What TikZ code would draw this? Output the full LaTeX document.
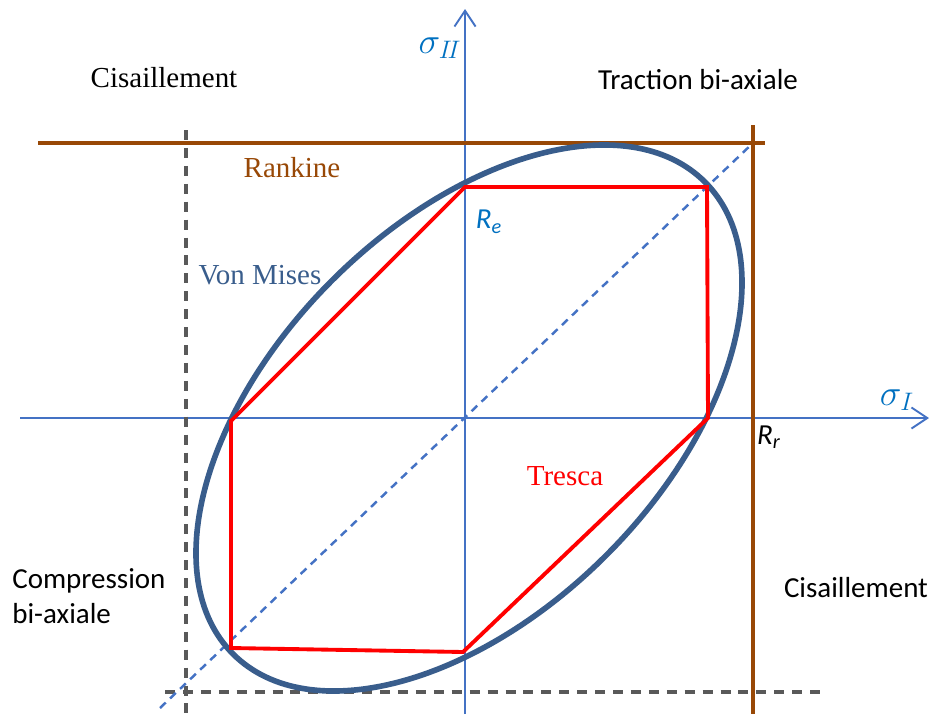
\documentclass[tikz,border=0pt]{standalone}
\usepackage{fontspec}
\setmainfont{Liberation Serif}
\newfontfamily\calibri{Carlito}
\usetikzlibrary{arrows.meta}
\definecolor{axisblue}{RGB}{68,114,196}
\definecolor{vmblue}{RGB}{57,93,140}
\definecolor{rkbrown}{RGB}{152,72,6}
\definecolor{dgray}{RGB}{89,89,89}
\definecolor{lblblue}{RGB}{0,112,192}
\tikzset{
  axisline/.style={draw=axisblue,line width=1.1pt,-{Straight Barb[length=9pt,width=12pt,line width=1.1pt]}},
  diagline/.style={draw=axisblue,line width=1.4pt,dash pattern=on 4.5pt off 3.4pt},
  limline/.style={draw=dgray,line width=1.9pt,dash pattern=on 5.7pt off 4.5pt},
  rkline/.style={draw=rkbrown,line width=2.2pt},
  vmline/.style={draw=vmblue,line width=3.2pt},
  trline/.style={draw=red,line width=2.2pt,line join=miter},
  serlbl/.style={font=\fontsize{16.5}{20}\selectfont,inner sep=0pt},
  sanslbl/.style={font=\calibri\fontsize{16.5}{20}\selectfont,inner sep=0pt},
}
\begin{document}
\begin{tikzpicture}[x=0.02cm,y=-0.02cm]
\useasboundingbox (0,0) rectangle (930,714);
% axes
\coordinate (xa0) at (20,418);
\coordinate (xa1) at (929,418);
\coordinate (ya0) at (465,714);
\coordinate (ya1) at (465,9);
\draw[axisline] (xa0) -- (xa1);
\draw[axisline] (ya0) -- (ya1);
% dashed limits
\coordinate (gv0) at (186,130);
\coordinate (gv1) at (186,714);
\coordinate (gh0) at (165,692);
\coordinate (gh1) at (820,692);
\draw[limline] (gv0) -- (gv1);
\draw[limline] (gh0) -- (gh1);
% diagonal
\coordinate (d0) at (160,708);
\coordinate (d1) at (753,143);
\draw[diagline] (d0) -- (d1);
% Rankine
\coordinate (rh0) at (38,143);
\coordinate (rh1) at (765,143);
\coordinate (rv0) at (753,125);
\coordinate (rv1) at (753,714);
\draw[rkline] (rh0) -- (rh1);
\draw[rkline] (rv0) -- (rv1);
% Von Mises
\coordinate (c) at (469,418);
\draw[vmline] (c) ellipse [x radius=333.7, y radius=194.1, rotate=45];
% Tresca
\coordinate (t1) at (465,187);
\coordinate (t2) at (707,187);
\coordinate (t3) at (708,418);
\coordinate (t4) at (463,652);
\coordinate (t5) at (231,648);
\coordinate (t6) at (231,421);
\draw[trline] (t1) -- (t2) -- (t3) -- (t4) -- (t5) -- (t6) -- cycle;
% labels
\node[serlbl] (lcis1) at (164,78) {Cisaillement};
\node[sanslbl] (ltrac) at (698,80) {Traction bi-axiale};
\node[serlbl,text=rkbrown] (lrank) at (292,168) {Rankine};
\node[serlbl,text=vmblue] (lvm) at (260,275) {Von Mises};
\node[serlbl,text=red] (ltr) at (565,476) {Tresca};
\node[sanslbl,align=left,anchor=north west] (lcomp) at (12,568) {Compression\\bi-axiale};
\node[sanslbl] (lcis2) at (856,588) {Cisaillement};
\node[sanslbl,text=lblblue] (lre) at (489,222) {\itshape R\textsubscript{e}};
\node[sanslbl] (lrr) at (769,437) {\itshape R\textsubscript{r}};
\node[inner sep=0pt,text=lblblue,font=\fontsize{20}{22}\selectfont] (lsII) at (440,48) {$\sigma_{I\!I}$};
\node[inner sep=0pt,text=lblblue,font=\fontsize{20}{22}\selectfont] (lsI) at (897,400) {$\sigma_{I}$};
\end{tikzpicture}
\end{document}
